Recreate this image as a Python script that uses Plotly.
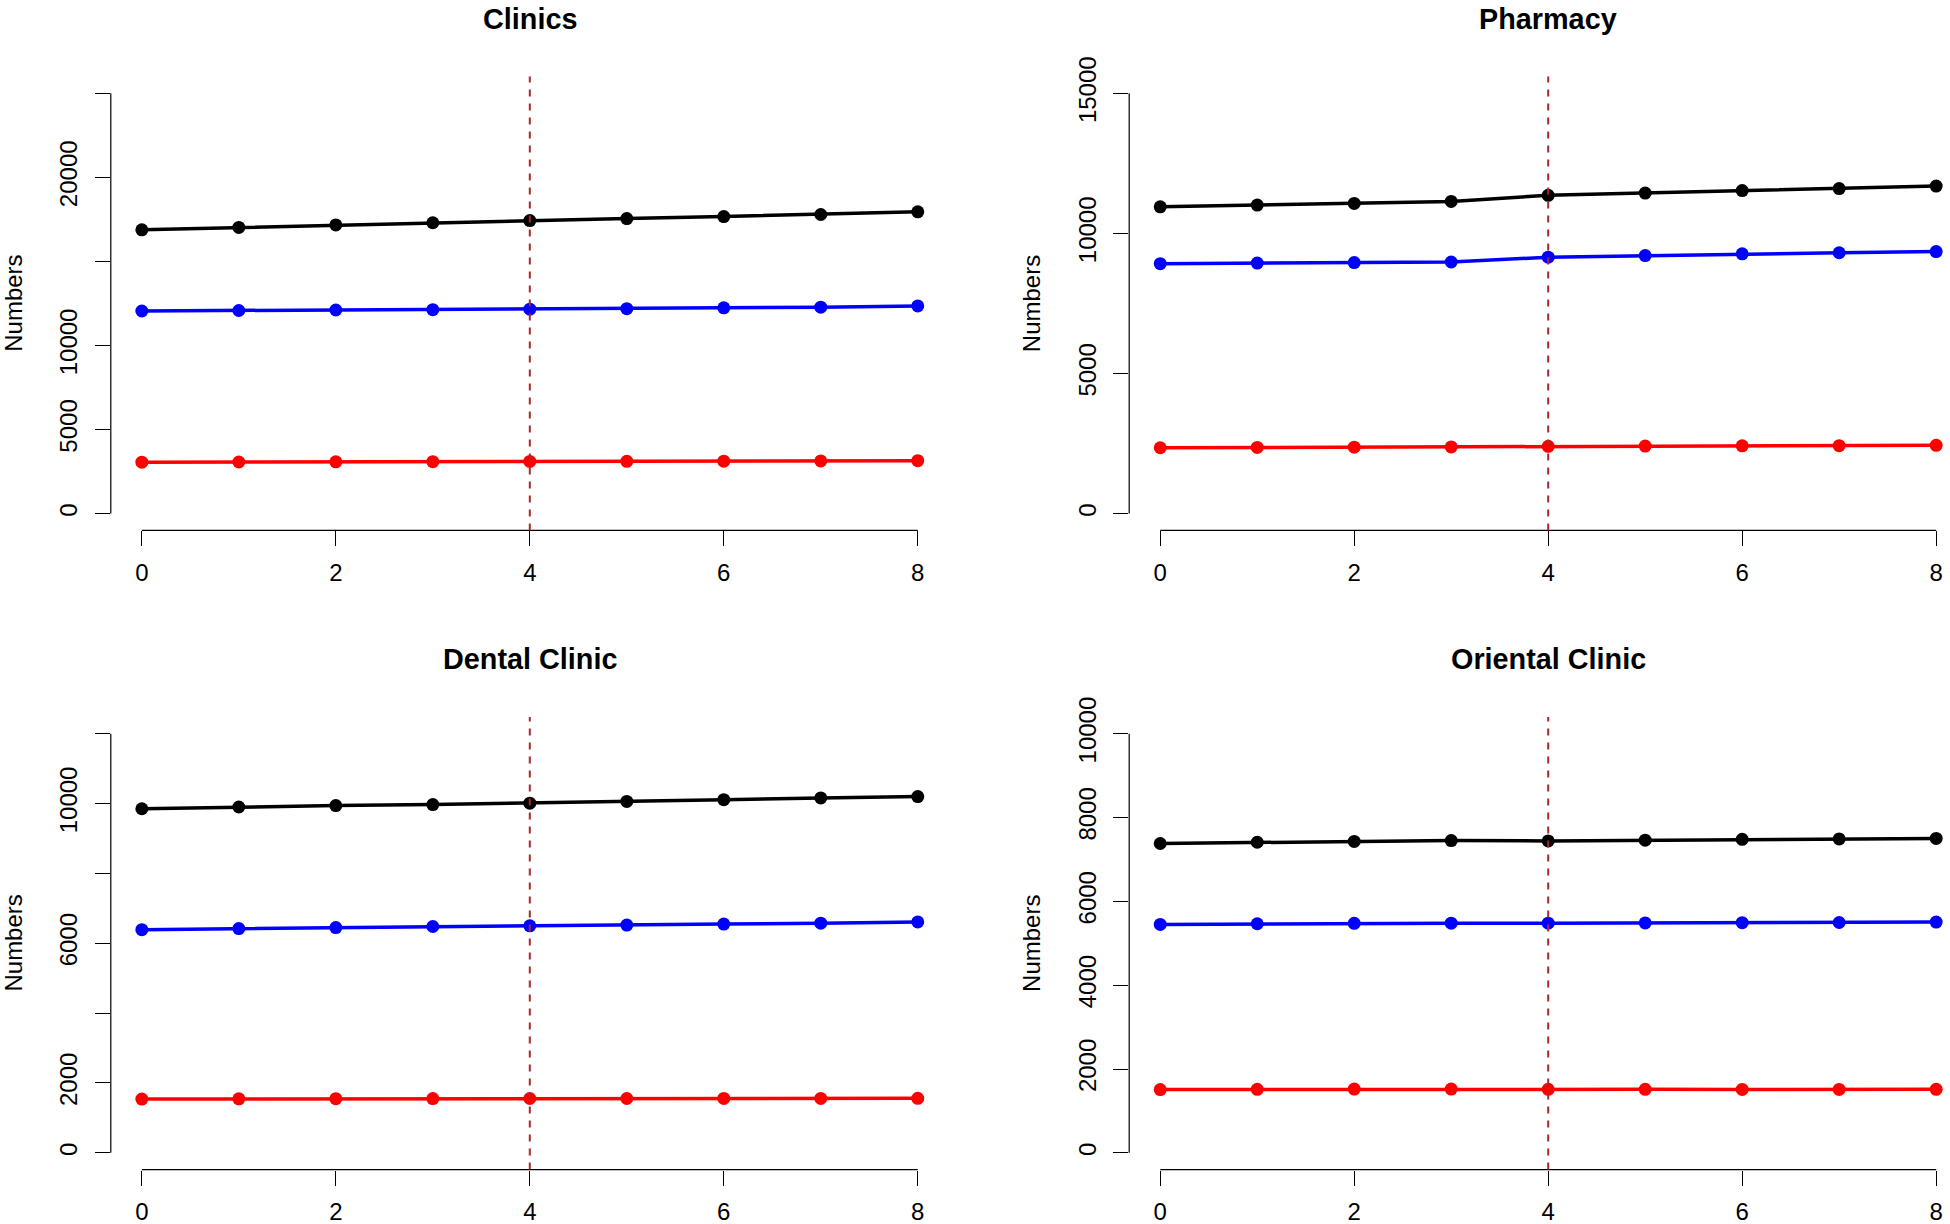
import plotly.graph_objects as go

# ---------------- data ----------------
years = [0, 1, 2, 3, 4, 5, 6, 7, 8]
x_tick_vals = [0, 2, 4, 6, 8]
x_tick_text = ["0", "2", "4", "6", "8"]

titles = ["Clinics", "Pharmacy", "Dental Clinic", "Oriental Clinic"]

clinics_black = [16880, 17020, 17170, 17300, 17430, 17550, 17670, 17790, 17950]
clinics_blue = [12050, 12080, 12110, 12130, 12160, 12190, 12240, 12280, 12350]
clinics_red = [3060, 3070, 3080, 3090, 3100, 3110, 3120, 3130, 3150]

pharmacy_black = [10950, 11010, 11070, 11140, 11360, 11440, 11530, 11600, 11690]
pharmacy_blue = [8920, 8940, 8960, 8980, 9150, 9210, 9270, 9310, 9350]
pharmacy_red = [2350, 2360, 2370, 2380, 2400, 2410, 2420, 2425, 2435]

dental_black = [9850, 9900, 9940, 9970, 10010, 10060, 10110, 10160, 10200]
dental_blue = [6390, 6420, 6450, 6480, 6500, 6520, 6550, 6575, 6610]
dental_red = [1540, 1545, 1550, 1552, 1555, 1556, 1558, 1559, 1560]

oriental_black = [7380, 7410, 7430, 7450, 7440, 7460, 7480, 7490, 7500]
oriental_blue = [5450, 5465, 5475, 5480, 5480, 5485, 5490, 5495, 5505]
oriental_red = [1510, 1515, 1520, 1520, 1515, 1515, 1512, 1512, 1515]

clinics_ticks = [0, 5000, 10000, 15000, 20000, 25000]
clinics_ticklabels = ["0", "5000", "10000", "", "20000", ""]
pharmacy_ticks = [0, 5000, 10000, 15000]
pharmacy_ticklabels = ["0", "5000", "10000", "15000"]
dental_ticks = [0, 2000, 4000, 6000, 8000, 10000, 12000]
dental_ticklabels = ["0", "2000", "", "6000", "", "10000", ""]
oriental_ticks = [0, 2000, 4000, 6000, 8000, 10000]
oriental_ticklabels = ["0", "2000", "4000", "6000", "8000", "10000"]

vline_year = 4
y_label = "Numbers"

# ---------------- layout geometry ----------------
W, H = 1950, 1224
FONT = "Liberation Sans, Arial, Helvetica, sans-serif"


def px_x(v):
    return v / W


def px_y(v):
    return (H - v) / H


panels = [
    dict(title=titles[0], series=[clinics_black, clinics_blue, clinics_red],
         ticks=clinics_ticks, labels=clinics_ticklabels, ymax=25000,
         left=110.8, right=948.8, top=76.5, bottom=530.4, xmax_px=948.8),
    dict(title=titles[1], series=[pharmacy_black, pharmacy_blue, pharmacy_red],
         ticks=pharmacy_ticks, labels=pharmacy_ticklabels, ymax=15000,
         left=1129.2, right=1967.2, top=76.5, bottom=530.4, xmax_px=1950),
    dict(title=titles[2], series=[dental_black, dental_blue, dental_red],
         ticks=dental_ticks, labels=dental_ticklabels, ymax=12000,
         left=110.8, right=948.8, top=716.9, bottom=1169.6, xmax_px=948.8),
    dict(title=titles[3], series=[oriental_black, oriental_blue, oriental_red],
         ticks=oriental_ticks, labels=oriental_ticklabels, ymax=10000,
         left=1129.2, right=1967.2, top=716.9, bottom=1169.6, xmax_px=1950),
]

colors = ["#000000", "#0000FF", "#FF0000"]

fig = go.Figure()
shapes = []
annotations = []
layout_axes = {}

for i, p in enumerate(panels):
    n = i + 1
    xa = "x" if n == 1 else f"x{n}"
    ya = "y" if n == 1 else f"y{n}"
    xkey = "xaxis" if n == 1 else f"xaxis{n}"
    ykey = "yaxis" if n == 1 else f"yaxis{n}"

    for s, c in zip(p["series"], colors):
        fig.add_trace(go.Scatter(
            x=years, y=s, mode="lines+markers", xaxis=xa, yaxis=ya,
            line=dict(color=c, width=3.5),
            marker=dict(color=c, size=13),
            showlegend=False, hoverinfo="skip"))

    # R-style range: 4% extension
    x0r, x1r = -0.32, 8.32
    full_w = p["right"] - p["left"]
    x_end = x0r + (p["xmax_px"] - p["left"]) / full_w * (x1r - x0r)
    ymax = p["ymax"]
    layout_axes[xkey] = dict(
        domain=[px_x(p["left"]), min(1.0, px_x(p["xmax_px"]))],
        range=[x0r, x_end], anchor=ya, automargin=False,
        showgrid=False, zeroline=False, showline=False,
        tickmode="array", tickvals=x_tick_vals, ticktext=x_tick_text,
        ticks="outside", ticklen=15, tickwidth=1, tickcolor="black",
        tickfont=dict(family=FONT, size=24, color="black"),
        ticklabelstandoff=6,
    )
    layout_axes[ykey] = dict(
        domain=[px_y(p["bottom"]), px_y(p["top"])],
        range=[-0.04 * ymax, 1.04 * ymax], anchor=xa, automargin=False,
        showgrid=False, zeroline=False, showline=False,
        tickmode="array", tickvals=p["ticks"], ticktext=p["labels"],
        ticks="outside", ticklen=15, tickwidth=1, tickcolor="black",
        tickangle=-90,
        tickfont=dict(family=FONT, size=24, color="black"),
        ticklabelstandoff=8,
    )

    # detached R-style axis lines
    shapes.append(dict(type="line", xref=f"{xa} domain", yref=ya,
                       x0=0, x1=0, y0=0, y1=ymax,
                       line=dict(color="black", width=1.2)))
    shapes.append(dict(type="line", xref=xa, yref=f"{ya} domain",
                       x0=0, x1=8, y0=0, y1=0,
                       line=dict(color="black", width=1.2)))
    # dashed vertical line
    shapes.append(dict(type="line", xref=xa, yref=f"{ya} domain",
                       x0=vline_year, x1=vline_year, y0=0, y1=1,
                       line=dict(color="#A52A2A", width=2, dash="7px,7px"),
                       layer="above"))

    # panel title
    cx = (p["left"] + p["right"]) / 2
    ty = p["top"] - 57.8
    annotations.append(dict(text=f"<b>{p['title']}</b>", xref="paper", yref="paper",
                            x=px_x(cx), y=px_y(ty), xanchor="center", yanchor="middle",
                            showarrow=False,
                            font=dict(family=FONT, size=28.8, color="black")))
    # y label
    annotations.append(dict(text=y_label, xref="paper", yref="paper",
                            x=px_x(p["left"] - 97.5), y=px_y((p["top"] + p["bottom"]) / 2),
                            xanchor="center", yanchor="middle", textangle=-90,
                            showarrow=False,
                            font=dict(family=FONT, size=24, color="black")))

fig.update_layout(
    width=W, height=H,
    margin=dict(l=0, r=0, t=0, b=0, autoexpand=False),
    paper_bgcolor="white", plot_bgcolor="white",
    shapes=shapes, annotations=annotations,
    **layout_axes,
)

fig.write_html(
    "out.html",
    config={"displayModeBar": False},
    post_script="document.body.style.margin='0';document.body.style.overflow='hidden';",
)
